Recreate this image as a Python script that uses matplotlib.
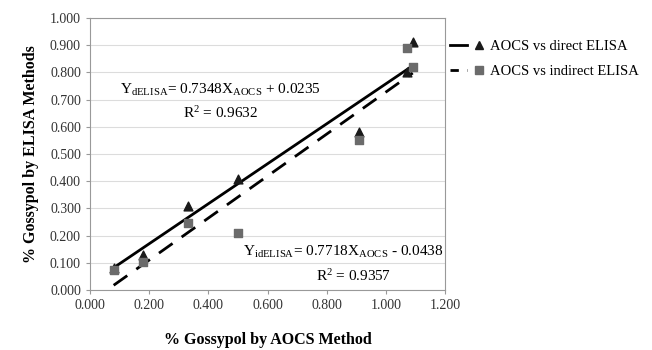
import matplotlib
matplotlib.use("Agg")
import matplotlib.pyplot as plt
from matplotlib.lines import Line2D
from matplotlib.legend_handler import HandlerTuple

plt.rcParams['font.family'] = ['Liberation Serif', 'DejaVu Serif']
plt.rcParams['mathtext.fontset'] = 'custom'
plt.rcParams['mathtext.rm'] = 'Liberation Serif'
plt.rcParams['mathtext.it'] = 'Liberation Serif:italic'

# % gossypol, AOCS method vs the two ELISA methods
aocs = [0.08, 0.18, 0.33, 0.50, 0.91, 1.07, 1.09]
direct_elisa = [0.08, 0.13, 0.31, 0.41, 0.58, 0.80, 0.91]
indirect_elisa = [0.075, 0.105, 0.245, 0.21, 0.55, 0.89, 0.82]

# trendline coefficients as printed on the chart
d_slope, d_icpt, d_r2 = 0.7348, 0.0235, 0.9632
i_slope, i_icpt, i_r2 = 0.7718, -0.0438, 0.9357

x_ticks = [0.0, 0.2, 0.4, 0.6, 0.8, 1.0, 1.2]
y_ticks = [i / 10 for i in range(11)]

fig = plt.figure(figsize=(6.52, 3.5), dpi=100)
ax = fig.add_axes([0.138, 0.171, 0.545, 0.778])

xs = [min(aocs), max(aocs)]
ax.plot(xs, [d_slope * x + d_icpt for x in xs], color='black', lw=2, zorder=3)
ax.plot(xs, [i_slope * x + i_icpt for x in xs], color='black', lw=2,
        dashes=(6, 4), zorder=3)
ax.scatter(aocs, direct_elisa, marker='^', s=40, color='#1a1a1a', zorder=4)
ax.scatter(aocs, indirect_elisa, marker='s', s=40, color='#6b6b6b', zorder=4)

ax.set_xlim(0, 1.2)
ax.set_ylim(0, 1.0)
ax.set_xticks(x_ticks)
ax.set_yticks(y_ticks)
ax.set_xticklabels([f"{v:.3f}" for v in x_ticks])
ax.set_yticklabels([f"{v:.3f}" for v in y_ticks])
ax.tick_params(labelsize=10, colors='#333333', length=3, color='#999999')
ax.yaxis.grid(True, color='#dcdcdc', lw=0.8)
ax.set_axisbelow(True)
for s in ax.spines.values():
    s.set_color('#999999')

ax.set_xlabel('% Gossypol by AOCS Method', fontsize=11.5, fontweight='bold', labelpad=14)
ax.set_ylabel('% Gossypol by ELISA Methods', fontsize=11.5, fontweight='bold', labelpad=8)

ax.text(0.44, 0.735,
        r'Y$_{\mathrm{dELISA}}$= %.4fX$_{\mathrm{AOCS}}$ + %.4f' % (d_slope, d_icpt),
        fontsize=11, ha='center', va='center')
ax.text(0.44, 0.65, r'R$^2$ = %.4f' % d_r2, fontsize=11, ha='center', va='center')
ax.text(0.855, 0.14,
        r'Y$_{\mathrm{idELISA}}$= %.4fX$_{\mathrm{AOCS}}$ - %.4f' % (i_slope, -i_icpt),
        fontsize=11, ha='center', va='center')
ax.text(0.89, 0.052, r'R$^2$ = %.4f' % i_r2, fontsize=11, ha='center', va='center')

handles = [
    (Line2D([], [], color='black', lw=2),
     Line2D([], [], marker='^', ls='none', color='#1a1a1a', ms=6)),
    (Line2D([], [], color='black', lw=2, dashes=(3, 3)),
     Line2D([], [], marker='s', ls='none', color='#6b6b6b', ms=6)),
]
leg = fig.legend(handles, ['AOCS vs direct ELISA', 'AOCS vs indirect ELISA'],
                 handler_map={tuple: HandlerTuple(ndivide=None, pad=0.2)},
                 loc='upper left', bbox_to_anchor=(0.69, 0.885), frameon=False,
                 borderpad=0, borderaxespad=0,
                 fontsize=10.5, handlelength=2.6, handletextpad=0.15, labelspacing=0.75)

fig.savefig('out.png', dpi=100)
